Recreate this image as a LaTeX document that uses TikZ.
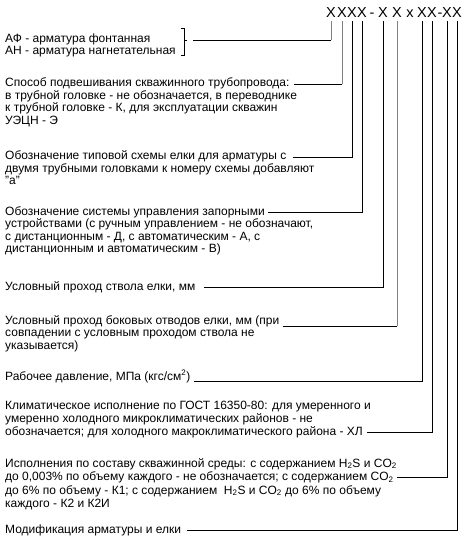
\documentclass[tikz,border=0pt]{standalone}
\usepackage{fontspec}
\setmainfont{Liberation Sans}
\begin{document}
\begin{tikzpicture}[x=1pt,y=-1pt,
  txt/.style={anchor=base west, inner sep=0pt, font=\fontsize{12}{13}\selectfont},
  hdr/.style={anchor=base, inner xsep=0pt, inner ysep=2.5pt, font=\fontsize{14.5}{16}\selectfont},
  conn/.style={line width=0.9pt, black},
  connlight/.style={line width=0.9pt, black!50},
  brace/.style={line width=0.8pt, black}]
\useasboundingbox (0,0) rectangle (472,537);
% header code
\node[hdr] (h1) at (331,18) {X};
\node[hdr] (h2) at (342,18) {X};
\node[hdr] (h3) at (352,18) {X};
\node[hdr] (h4) at (362,18) {X};
\node[hdr] (d1) at (372,18) {-};
\node[hdr] (h5) at (383,18) {X};
\node[hdr] (h6) at (397,18) {X};
\node[hdr] (hx) at (410,18) {x};
\node[hdr] (h7) at (422,18) {X};
\node[hdr] (h8) at (432,18) {X};
\node[hdr] (d2) at (440,18) {-};
\node[hdr] (h9) at (447,18) {X};
\node[hdr] (h10) at (457,18) {X};
% texts
\node[txt] (af) at (5,43) {АФ - арматура фонтанная};
\node[txt] (an) at (5,55) {АН - арматура нагнетательная};
\node[txt] (s1) at (5,87) {Способ подвешивания скважинного трубопровода:};
\node[txt] (s2) at (5,99.5) {в трубной головке - не обозначается, в переводнике};
\node[txt] (s3) at (5,112) {к трубной головке - К, для эксплуатации скважин};
\node[txt] (s4) at (5,124.5) {УЭЦН - Э};
\node[txt] (t1) at (5,160) {Обозначение типовой схемы елки для арматуры с};
\node[txt] (t2) at (5,172.5) {двумя трубными головками к номеру схемы добавляют};
\node[txt] (t3) at (5,185) {"а"};
\node[txt] (u1) at (5,215) {Обозначение системы управления запорными};
\node[txt] (u2) at (5,227.5) {устройствами (с ручным управлением - не обозначают,};
\node[txt] (u3) at (5,240) {с дистанционным - Д, с автоматическим - А, с};
\node[txt] (u4) at (5,252.5) {дистанционным и автоматическим - В)};
\node[txt] (c1) at (5,290) {Условный проход ствола елки, мм};
\node[txt] (b1) at (5,324) {Условный проход боковых отводов елки, мм (при};
\node[txt] (b2) at (5,336.5) {совпадении с условным проходом ствола не};
\node[txt] (b3) at (5,349) {указывается)};
\node[txt] (p1) at (5,380) {Рабочее давление, МПа (кгс/см\textsuperscript{2})};
\node[txt] (k1) at (5,409) {Климатическое исполнение по ГОСТ 16350-80: для умеренного и};
\node[txt] (k2) at (5,422) {умеренно холодного микроклиматических районов - не};
\node[txt] (k3) at (5,435) {обозначается; для холодного макроклиматического района - ХЛ};
\node[txt] (e1) at (5,467) {Исполнения по составу скважинной среды: с содержанием H\textsubscript{2}S и CO\textsubscript{2}};
\node[txt] (e2) at (5,480.5) {до 0,003\% по объему каждого - не обозначается; с содержанием CO\textsubscript{2}};
\node[txt] (e3) at (5,494) {до 6\% по объему - К1; с содержанием \ H\textsubscript{2}S и CO\textsubscript{2} до 6\% по объему};
\node[txt] (e4) at (5,507.5) {каждого - К2 и К2И};
\node[txt] (m1) at (5,533) {Модификация арматуры и елки};
% brace
\draw[brace] (181,28) -- (184,28) -- (184,55) -- (181,55);
\draw[brace] (184,40) -- (187,40);
\coordinate (bq) at (193,40);
% connectors
\draw[conn] (bq) -- (bq -| h1.south);
\draw[connlight] (bq -| h1.south) -- (h1.south);
\coordinate (q2) at ([xshift=4pt]s1.mid east);
\draw[conn] (q2) -- (q2 -| h2.south);
\draw[connlight] (q2 -| h2.south) -- (h2.south);
\draw[conn] ([xshift=6pt]t1.mid east) -| (h3.south);
\draw[conn] ([xshift=3pt]u1.mid east) -| (h4.south);
\draw[conn] ([xshift=8pt]c1.mid east) -| (h5.south);
\coordinate (q6) at ([xshift=3pt,yshift=-2pt]b1.base east);
\draw[conn] (q6) -- (q6 -| h6.south);
\draw[connlight] (q6 -| h6.south) -- (h6.south);
\draw[conn] ([xshift=3pt,yshift=-1pt]p1.base east) -| (h7.south);
\draw[conn] ([xshift=4pt]k3.mid east) -| (h8.south);
\draw[conn] ([xshift=3pt]e2.mid east) -| (h9.south);
\draw[conn] ([xshift=6pt]m1.mid east) -| (h10.south);
\end{tikzpicture}
\end{document}
